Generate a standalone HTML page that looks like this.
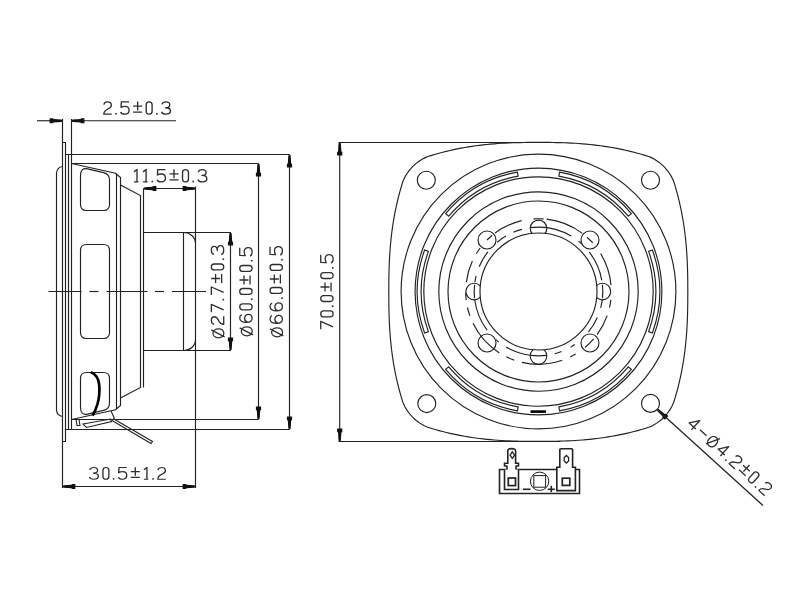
<!DOCTYPE html>
<html><head><meta charset="utf-8"><style>
html,body{margin:0;padding:0;background:#fff;width:800px;height:600px;overflow:hidden;font-family:"Liberation Sans",sans-serif;}
svg{display:block}
</style></head><body>
<svg width="800" height="600" viewBox="0 0 800 600">
<rect width="800" height="600" fill="#fff"/>
<g fill="none" stroke="#222" stroke-width="1.15">
<line x1="62.50" y1="119.00" x2="62.50" y2="142.50" />
<line x1="71.50" y1="119.00" x2="71.50" y2="154.50" />
<line x1="37.00" y1="120.75" x2="62.50" y2="120.75" />
<line x1="71.50" y1="120.75" x2="176.00" y2="120.75" />
<polygon transform="translate(62.30,120.75) rotate(180)" points="0.00,0.00 0.80,-1.20 8.80,-1.70 9.20,-2.60 12.70,-2.60 12.70,2.60 9.20,2.60 8.80,1.70 0.80,1.20" fill="#111" stroke="none"/>
<polygon transform="translate(71.70,120.75) rotate(0)" points="0.00,0.00 0.80,-1.20 8.80,-1.70 9.20,-2.60 12.70,-2.60 12.70,2.60 9.20,2.60 8.80,1.70 0.80,1.20" fill="#111" stroke="none"/>
<path d="M62.5,142.5 L65.5,142.5 L65.5,441.5 L62.5,441.5 Z"/>
<line x1="62.50" y1="441.50" x2="62.50" y2="488.00" />
<path d="M68.5,154.5 L71.5,154.5 L71.5,429.5 L68.5,429.5 Z"/>
<line x1="65.50" y1="154.50" x2="289.50" y2="154.50" />
<line x1="65.50" y1="429.50" x2="289.50" y2="429.50" />
<line x1="71.50" y1="163.50" x2="258.50" y2="163.50" />
<line x1="71.50" y1="419.50" x2="258.50" y2="419.50" />
<path d="M62.5,166.5 A6.5,6.5 0 0 0 56.5,173 L56.5,410 A6.5,6.5 0 0 0 62.5,416.5"/>
<path d="M71.5,163.5 L115.5,173.2 L120.5,177.5 L120.5,405.5 L115.5,409.8 L71.5,419.5"/>
<line x1="116.50" y1="173.50" x2="116.50" y2="409.50" />
<path d="M120.5,185 L140.5,195.5 L140.5,387.5 L120.5,398"/>
<line x1="143.50" y1="188.50" x2="143.50" y2="387.50" />
<path d="M87.5,168.9 L103.5,172.6 Q109.5,174 109.5,180 L109.5,204.5 Q109.5,210.5 103.5,210.5 L86.5,210.5 Q80.5,210.5 80.5,204.5 L80.5,175.5 Q80.5,167.5 87.5,168.9 Z"/>
<path d="M86.5,244.5 L103.5,244.5 Q109.5,244.5 109.5,250.5 L109.5,332.5 Q109.5,338.5 103.5,338.5 L86.5,338.5 Q80.5,338.5 80.5,332.5 L80.5,250.5 Q80.5,244.5 86.5,244.5 Z"/>
<path d="M87.5,414.1 L103.5,410.4 Q109.5,409 109.5,403 L109.5,378.5 Q109.5,372.5 103.5,372.5 L86.5,372.5 Q80.5,372.5 80.5,378.5 L80.5,407.5 Q80.5,415.5 87.5,414.1 Z"/>
<path d="M90.8,372.3 C95.5,374 98.5,378 99.2,385 C99.8,392 99.2,398 97.5,404 C96.2,408.5 94.5,412.5 92.6,415.5" stroke="#000" stroke-width="2.7"/>
<path d="M76,419.5 L79,419.5 L80,425.5 L77,425.5 Z" stroke-width="1.1"/>
<path d="M83,424 L110.5,419 L111.5,421.5 L86.5,427.5 Z" stroke-width="1.1"/>
<path d="M113,418.5 L152.5,441.5 L151,443.5 L112,420.5" stroke-width="1.1"/>
<path d="M111,411 L114.5,418.5" stroke-width="1.1"/>
<line x1="143.50" y1="232.50" x2="231.00" y2="232.50" />
<line x1="143.50" y1="350.50" x2="231.00" y2="350.50" />
<line x1="183.50" y1="232.50" x2="183.50" y2="350.50" />
<path d="M184,232.5 A11.5,11 0 0 1 195.5,243.5"/>
<path d="M184,350.5 A11.5,11 0 0 0 195.5,339.5"/>
<line x1="195.50" y1="186.50" x2="195.50" y2="488.00" />
<line x1="143.50" y1="188.50" x2="195.50" y2="188.50" />
<polygon transform="translate(143.70,188.50) rotate(0)" points="0.00,0.00 0.80,-1.20 8.80,-1.70 9.20,-2.60 12.70,-2.60 12.70,2.60 9.20,2.60 8.80,1.70 0.80,1.20" fill="#111" stroke="none"/>
<polygon transform="translate(195.30,188.50) rotate(180)" points="0.00,0.00 0.80,-1.20 8.80,-1.70 9.20,-2.60 12.70,-2.60 12.70,2.60 9.20,2.60 8.80,1.70 0.80,1.20" fill="#111" stroke="none"/>
<line x1="48.50" y1="291.50" x2="81.50" y2="291.50" />
<line x1="89.50" y1="291.50" x2="98.50" y2="291.50" />
<line x1="106.50" y1="291.50" x2="147.50" y2="291.50" />
<line x1="155.00" y1="291.50" x2="164.00" y2="291.50" />
<line x1="172.00" y1="291.50" x2="206.00" y2="291.50" />
<line x1="230.50" y1="232.50" x2="230.50" y2="350.50" />
<polygon transform="translate(230.50,232.70) rotate(90)" points="0.00,0.00 0.80,-1.20 8.80,-1.70 9.20,-2.60 12.70,-2.60 12.70,2.60 9.20,2.60 8.80,1.70 0.80,1.20" fill="#111" stroke="none"/>
<polygon transform="translate(230.50,350.30) rotate(-90)" points="0.00,0.00 0.80,-1.20 8.80,-1.70 9.20,-2.60 12.70,-2.60 12.70,2.60 9.20,2.60 8.80,1.70 0.80,1.20" fill="#111" stroke="none"/>
<line x1="258.50" y1="163.50" x2="258.50" y2="419.50" />
<polygon transform="translate(258.50,163.70) rotate(90)" points="0.00,0.00 0.80,-1.20 8.80,-1.70 9.20,-2.60 12.70,-2.60 12.70,2.60 9.20,2.60 8.80,1.70 0.80,1.20" fill="#111" stroke="none"/>
<polygon transform="translate(258.50,419.30) rotate(-90)" points="0.00,0.00 0.80,-1.20 8.80,-1.70 9.20,-2.60 12.70,-2.60 12.70,2.60 9.20,2.60 8.80,1.70 0.80,1.20" fill="#111" stroke="none"/>
<line x1="289.50" y1="154.50" x2="289.50" y2="429.50" />
<polygon transform="translate(289.50,154.70) rotate(90)" points="0.00,0.00 0.80,-1.20 8.80,-1.70 9.20,-2.60 12.70,-2.60 12.70,2.60 9.20,2.60 8.80,1.70 0.80,1.20" fill="#111" stroke="none"/>
<polygon transform="translate(289.50,429.30) rotate(-90)" points="0.00,0.00 0.80,-1.20 8.80,-1.70 9.20,-2.60 12.70,-2.60 12.70,2.60 9.20,2.60 8.80,1.70 0.80,1.20" fill="#111" stroke="none"/>
<line x1="62.50" y1="486.50" x2="195.50" y2="486.50" />
<polygon transform="translate(62.70,486.50) rotate(0)" points="0.00,0.00 0.80,-1.20 8.80,-1.70 9.20,-2.60 12.70,-2.60 12.70,2.60 9.20,2.60 8.80,1.70 0.80,1.20" fill="#111" stroke="none"/>
<polygon transform="translate(195.30,486.50) rotate(180)" points="0.00,0.00 0.80,-1.20 8.80,-1.70 9.20,-2.60 12.70,-2.60 12.70,2.60 9.20,2.60 8.80,1.70 0.80,1.20" fill="#111" stroke="none"/>
<path d="M427.93,156.48 L431.60,155.33 L435.28,154.25 L438.96,153.22 L442.64,152.24 L446.32,151.33 L450.00,150.46 L453.68,149.65 L457.36,148.88 L461.04,148.17 L464.72,147.51 L468.40,146.89 L472.08,146.33 L475.75,145.80 L479.43,145.32 L483.11,144.89 L486.79,144.49 L490.47,144.14 L494.15,143.82 L497.83,143.55 L501.51,143.30 L505.19,143.09 L508.87,142.92 L512.55,142.77 L516.23,142.65 L519.90,142.56 L523.58,142.49 L527.26,142.44 L530.94,142.42 L534.62,142.40 L538.30,142.40 L541.98,142.40 L545.66,142.42 L549.34,142.44 L553.02,142.49 L556.70,142.56 L560.37,142.65 L564.05,142.77 L567.73,142.92 L571.41,143.09 L575.09,143.30 L578.77,143.55 L582.45,143.82 L586.13,144.14 L589.81,144.49 L593.49,144.89 L597.17,145.32 L600.85,145.80 L604.52,146.33 L608.20,146.89 L611.88,147.51 L615.56,148.17 L619.24,148.88 L622.92,149.65 L626.60,150.46 L630.28,151.33 L633.96,152.24 L637.64,153.22 L641.32,154.25 L645.00,155.33 L648.67,156.48 L648.67,156.48 L650.77,157.37 L652.81,158.37 L654.80,159.48 L656.73,160.68 L658.60,161.98 L660.40,163.37 L662.13,164.85 L663.78,166.42 L665.35,168.07 L666.83,169.80 L668.22,171.60 L669.52,173.47 L670.72,175.40 L671.83,177.39 L672.83,179.43 L673.72,181.53 L673.72,181.53 L674.87,185.20 L675.95,188.88 L676.98,192.56 L677.96,196.24 L678.87,199.92 L679.74,203.60 L680.55,207.28 L681.32,210.96 L682.03,214.64 L682.69,218.32 L683.31,222.00 L683.87,225.68 L684.40,229.35 L684.88,233.03 L685.31,236.71 L685.71,240.39 L686.06,244.07 L686.38,247.75 L686.65,251.43 L686.90,255.11 L687.11,258.79 L687.28,262.47 L687.43,266.15 L687.55,269.83 L687.64,273.50 L687.71,277.18 L687.76,280.86 L687.78,284.54 L687.80,288.22 L687.80,291.90 L687.80,295.58 L687.78,299.26 L687.76,302.94 L687.71,306.62 L687.64,310.30 L687.55,313.97 L687.43,317.65 L687.28,321.33 L687.11,325.01 L686.90,328.69 L686.65,332.37 L686.38,336.05 L686.06,339.73 L685.71,343.41 L685.31,347.09 L684.88,350.77 L684.40,354.45 L683.87,358.12 L683.31,361.80 L682.69,365.48 L682.03,369.16 L681.32,372.84 L680.55,376.52 L679.74,380.20 L678.87,383.88 L677.96,387.56 L676.98,391.24 L675.95,394.92 L674.87,398.60 L673.72,402.27 L673.72,402.27 L672.83,404.37 L671.83,406.41 L670.72,408.40 L669.52,410.33 L668.22,412.20 L666.83,414.00 L665.35,415.73 L663.78,417.38 L662.13,418.95 L660.40,420.43 L658.60,421.82 L656.73,423.12 L654.80,424.32 L652.81,425.43 L650.77,426.43 L648.67,427.32 L648.67,427.32 L645.00,428.47 L641.32,429.55 L637.64,430.58 L633.96,431.56 L630.28,432.47 L626.60,433.34 L622.92,434.15 L619.24,434.92 L615.56,435.63 L611.88,436.29 L608.20,436.91 L604.52,437.47 L600.85,438.00 L597.17,438.48 L593.49,438.91 L589.81,439.31 L586.13,439.66 L582.45,439.98 L578.77,440.25 L575.09,440.50 L571.41,440.71 L567.73,440.88 L564.05,441.03 L560.37,441.15 L556.70,441.24 L553.02,441.31 L549.34,441.36 L545.66,441.38 L541.98,441.40 L538.30,441.40 L534.62,441.40 L530.94,441.38 L527.26,441.36 L523.58,441.31 L519.90,441.24 L516.23,441.15 L512.55,441.03 L508.87,440.88 L505.19,440.71 L501.51,440.50 L497.83,440.25 L494.15,439.98 L490.47,439.66 L486.79,439.31 L483.11,438.91 L479.43,438.48 L475.75,438.00 L472.08,437.47 L468.40,436.91 L464.72,436.29 L461.04,435.63 L457.36,434.92 L453.68,434.15 L450.00,433.34 L446.32,432.47 L442.64,431.56 L438.96,430.58 L435.28,429.55 L431.60,428.47 L427.93,427.32 L427.93,427.32 L425.83,426.43 L423.79,425.43 L421.80,424.32 L419.87,423.12 L418.00,421.82 L416.20,420.43 L414.47,418.95 L412.82,417.38 L411.25,415.73 L409.77,414.00 L408.38,412.20 L407.08,410.33 L405.88,408.40 L404.77,406.41 L403.77,404.37 L402.88,402.27 L402.88,402.27 L401.73,398.60 L400.65,394.92 L399.62,391.24 L398.64,387.56 L397.73,383.88 L396.86,380.20 L396.05,376.52 L395.28,372.84 L394.57,369.16 L393.91,365.48 L393.29,361.80 L392.73,358.12 L392.20,354.45 L391.72,350.77 L391.29,347.09 L390.89,343.41 L390.54,339.73 L390.22,336.05 L389.95,332.37 L389.70,328.69 L389.49,325.01 L389.32,321.33 L389.17,317.65 L389.05,313.97 L388.96,310.30 L388.89,306.62 L388.84,302.94 L388.82,299.26 L388.80,295.58 L388.80,291.90 L388.80,288.22 L388.82,284.54 L388.84,280.86 L388.89,277.18 L388.96,273.50 L389.05,269.83 L389.17,266.15 L389.32,262.47 L389.49,258.79 L389.70,255.11 L389.95,251.43 L390.22,247.75 L390.54,244.07 L390.89,240.39 L391.29,236.71 L391.72,233.03 L392.20,229.35 L392.73,225.68 L393.29,222.00 L393.91,218.32 L394.57,214.64 L395.28,210.96 L396.05,207.28 L396.86,203.60 L397.73,199.92 L398.64,196.24 L399.62,192.56 L400.65,188.88 L401.73,185.20 L402.88,181.53 L402.88,181.53 L403.77,179.43 L404.77,177.39 L405.88,175.40 L407.08,173.47 L408.38,171.60 L409.77,169.80 L411.25,168.07 L412.82,166.42 L414.47,164.85 L416.20,163.37 L418.00,161.98 L419.87,160.68 L421.80,159.48 L423.79,158.37 L425.83,157.37 L427.93,156.48 Z"/>
<line x1="338.50" y1="142.50" x2="560.00" y2="142.50" />
<line x1="338.50" y1="441.50" x2="560.00" y2="441.50" />
<line x1="339.70" y1="142.50" x2="339.70" y2="441.50" />
<polygon transform="translate(339.70,142.70) rotate(90)" points="0.00,0.00 0.80,-1.20 8.80,-1.70 9.20,-2.60 12.70,-2.60 12.70,2.60 9.20,2.60 8.80,1.70 0.80,1.20" fill="#111" stroke="none"/>
<polygon transform="translate(339.70,441.30) rotate(-90)" points="0.00,0.00 0.80,-1.20 8.80,-1.70 9.20,-2.60 12.70,-2.60 12.70,2.60 9.20,2.60 8.80,1.70 0.80,1.20" fill="#111" stroke="none"/>
<circle cx="426.30" cy="180.20" r="9.00" />
<circle cx="650.50" cy="180.20" r="9.00" />
<circle cx="426.80" cy="403.60" r="9.00" />
<circle cx="650.50" cy="403.40" r="9.00" />
<circle cx="538.50" cy="291.50" r="90.50" />
<circle cx="538.50" cy="291.50" r="99.70" />
<circle cx="538.50" cy="291.50" r="114.70" />
<circle cx="538.50" cy="291.50" r="123.40" />
<circle cx="538.50" cy="291.50" r="137.40" />
<circle cx="538.50" cy="291.50" r="58.50" />
<path d="M611.02,285.16 A72.8,72.8 0 0 0 600.57,253.46"/>
<path d="M592.77,242.98 A72.8,72.8 0 0 0 587.02,237.23"/>
<path d="M582.31,233.36 A72.8,72.8 0 0 0 546.61,219.15"/>
<path d="M543.58,218.88 A72.8,72.8 0 0 0 533.42,218.88"/>
<path d="M521.63,220.68 A72.8,72.8 0 0 0 495.09,233.05"/>
<path d="M492.29,235.24 A72.8,72.8 0 0 0 487.02,240.02"/>
<path d="M480.13,247.99 A72.8,72.8 0 0 0 476.30,253.68"/>
<path d="M472.36,261.08 A72.8,72.8 0 0 0 466.31,282.12"/>
<path d="M465.71,292.52 A72.8,72.8 0 0 0 466.21,300.12"/>
<path d="M467.48,307.50 A72.8,72.8 0 0 0 469.88,315.80"/>
<path d="M473.01,323.30 A72.8,72.8 0 0 0 499.38,352.90"/>
<path d="M506.36,356.82 A72.8,72.8 0 0 0 514.20,360.12"/>
<path d="M521.88,362.38 A72.8,72.8 0 0 0 562.20,360.33"/>
<path d="M570.18,357.04 A72.8,72.8 0 0 0 575.67,354.10"/>
<path d="M585.00,347.51 A72.8,72.8 0 0 0 593.69,338.97"/>
<path d="M597.10,334.70 A72.8,72.8 0 0 0 607.17,315.68"/>
<path d="M609.52,307.50 A72.8,72.8 0 0 0 610.82,299.87"/>
<path d="M601.82,280.33 A64.3,64.3 0 0 0 589.38,252.18"/>
<path d="M581.53,243.72 A64.3,64.3 0 0 0 578.44,241.11"/>
<path d="M571.13,236.10 A64.3,64.3 0 0 0 530.66,227.68"/>
<path d="M521.86,229.39 A64.3,64.3 0 0 0 513.38,232.31"/>
<path d="M505.87,236.10 A64.3,64.3 0 0 0 497.17,242.24"/>
<path d="M487.90,251.82 A64.3,64.3 0 0 0 479.14,266.79"/>
<path d="M476.11,275.94 A64.3,64.3 0 0 0 474.89,282.11"/>
<path d="M474.55,284.78 A64.3,64.3 0 0 0 474.55,298.22"/>
<path d="M474.76,300.00 A64.3,64.3 0 0 0 487.08,330.11"/>
<path d="M495.64,339.43 A64.3,64.3 0 0 0 498.91,342.17"/>
<path d="M506.16,347.07 A64.3,64.3 0 0 0 530.00,355.24"/>
<path d="M530.66,355.32 A64.3,64.3 0 0 0 546.34,355.32"/>
<path d="M554.60,353.75 A64.3,64.3 0 0 0 561.54,351.53"/>
<path d="M570.65,347.19 A64.3,64.3 0 0 0 574.83,344.55"/>
<path d="M588.47,331.97 A64.3,64.3 0 0 0 597.33,317.45"/>
<path d="M600.67,307.93 A64.3,64.3 0 0 0 602.22,300.12"/>
<path d="M602.45,298.22 A64.3,64.3 0 0 0 602.45,284.78"/>
<path d="M652.39,332.95 A121.2,121.2 0 0 0 652.39,250.05 L648.63,251.42 A117.2,117.2 0 0 1 648.63,331.58 Z"/>
<path d="M631.34,213.59 A121.2,121.2 0 0 0 559.55,172.14 L558.85,176.08 A117.2,117.2 0 0 1 628.28,216.17 Z"/>
<path d="M517.45,172.14 A121.2,121.2 0 0 0 445.66,213.59 L448.72,216.17 A117.2,117.2 0 0 1 518.15,176.08 Z"/>
<path d="M424.61,250.05 A121.2,121.2 0 0 0 424.61,332.95 L428.37,331.58 A117.2,117.2 0 0 1 428.37,251.42 Z"/>
<path d="M445.66,369.41 A121.2,121.2 0 0 0 517.45,410.86 L518.15,406.92 A117.2,117.2 0 0 1 448.72,366.83 Z"/>
<path d="M559.55,410.86 A121.2,121.2 0 0 0 631.34,369.41 L628.28,366.83 A117.2,117.2 0 0 1 558.85,406.92 Z"/>
<clipPath id="outside"><path d="M300,0 H800 V600 H300 Z M538.5,233.0 A58.5,58.5 0 1 0 538.5,350.0 A58.5,58.5 0 1 0 538.5,233.0 Z" clip-rule="evenodd"/></clipPath>
<g clip-path="url(#outside)">
<circle cx="538.50" cy="228.40" r="8.30" />
<circle cx="538.50" cy="356.00" r="8.30" />
<circle cx="474.20" cy="291.50" r="8.30" />
<circle cx="602.40" cy="291.50" r="8.30" />
</g>
<circle cx="589.98" cy="240.02" r="9.00" />
<circle cx="487.02" cy="240.02" r="9.00" />
<circle cx="487.02" cy="342.98" r="9.00" />
<circle cx="589.98" cy="342.98" r="9.00" />
<rect x="530.5" y="410.3" width="15.5" height="2.6" fill="#000" stroke="none"/>
<polygon transform="translate(657.19,409.42) rotate(42.0)" points="0.00,0.00 0.80,-1.20 8.80,-1.70 9.20,-2.60 12.70,-2.60 12.70,2.60 9.20,2.60 8.80,1.70 0.80,1.20" fill="#111" stroke="none"/>
<line x1="657.19" y1="409.42" x2="763.00" y2="505.50" stroke-width="1.25" />
<g stroke-width="1.6">
<path d="M499.5,469.5 H579.5 V493.5 H499.5 Z"/>
<path d="M504.5,469.5 V489.5 H518.5 V469.5 M507,469.5 V466.2 L504.5,465.8 V463.3 H507.8 V450.8 Q507.8,448.6 511.5,448.6 Q515.4,448.6 515.6,450.8 V463.3 H518.5 V465.8 L516,466.2 V469.5" fill="#fff"/>
<path d="M556.8,490.6 V467.2 H559.8 V449.5 Q559.8,448.8 561,448.8 H571.5 Q572.6,448.8 572.6,449.5 V467.2 H575.4 V490.6 Z" fill="#fff"/>
</g>
<g stroke-width="1.7">
<rect x="508.3" y="478" width="7.2" height="7.6"/>
<rect x="562.3" y="478.2" width="7.5" height="7.2"/>
</g>
<g stroke-width="1.3">
<path d="M512.3,451.8 L514.6,455.2 L512.3,458.4 L510.1,455.2 Z"/>
<path d="M566.4,455.5 L568.6,457.5 L568.6,461 L566.4,463 L564.2,461 L564.2,457.5 Z"/>
</g>
<circle cx="539.60" cy="481.30" r="9.20" stroke-width="1.0"/>
<rect x="533.8" y="475.6" width="11.8" height="11.6" stroke-width="1.0"/>
<line x1="523.00" y1="489.30" x2="530.50" y2="489.30" stroke-width="1.6" />
<line x1="547.80" y1="489.30" x2="554.80" y2="489.30" stroke-width="1.6" />
<line x1="551.30" y1="485.80" x2="551.30" y2="492.20" stroke-width="1.6" />
</g>
<g transform="translate(103.25,101.30) rotate(0) scale(1,0.96)" fill="none" stroke="#2e2e2e" stroke-width="1.35" stroke-linecap="butt" stroke-linejoin="round"><path transform="translate(0.00,0)" d="M0.6,3.5 C0.9,1.3 2.3,0.55 4.5,0.55 C6.8,0.55 8.1,1.8 8.1,4 C8.1,5.8 6.9,6.8 4.5,8 C1.7,9.4 0.6,10.4 0.6,13.45 L8.5,13.45"/><rect x="11.90" y="12.2" width="1.6" height="1.7" fill="#2e2e2e" stroke="none"/><path transform="translate(16.90,0)" d="M8.9,0.55 L1.2,0.55 L0.9,6.3 C1.9,5.6 3.3,5.2 4.7,5.2 C7.4,5.2 8.95,7 8.95,9.4 C8.95,11.9 7.2,13.45 4.6,13.45 C2.5,13.45 1,12.6 0.55,11.2"/><path transform="translate(29.90,0)" d="M4.5,0.3 L4.5,9.7 M0,5 L9,5 M0,11.3 L9,11.3"/><path transform="translate(42.40,0)" d="M0.55,3.6 C0.55,1.6 1.8,0.55 3.5,0.55 C5.2,0.55 6.45,1.6 6.45,3.6 L6.45,10.4 C6.45,12.4 5.2,13.45 3.5,13.45 C1.8,13.45 0.55,12.4 0.55,10.4 Z"/><rect x="52.80" y="12.2" width="1.6" height="1.7" fill="#2e2e2e" stroke="none"/><path transform="translate(57.80,0)" d="M0.8,3.2 C1.3,1.4 2.8,0.55 4.9,0.55 C7.3,0.55 8.7,1.8 8.7,3.6 C8.7,5.5 7.2,6.7 4.6,6.7 C7.7,6.7 9.45,8.2 9.45,10.2 C9.45,12.3 7.6,13.45 4.9,13.45 C2.6,13.45 1,12.6 0.55,10.9"/></g>
<g transform="translate(133.40,169.00) rotate(0) scale(1,0.96)" fill="none" stroke="#2e2e2e" stroke-width="1.35" stroke-linecap="butt" stroke-linejoin="round"><path transform="translate(0.00,0)" d="M0.55,3.0 L3.6,0.55 L3.6,13.45 M0.55,13.45 L5.05,13.45"/><path transform="translate(9.10,0)" d="M0.55,3.0 L3.6,0.55 L3.6,13.45 M0.55,13.45 L5.05,13.45"/><rect x="18.10" y="12.2" width="1.6" height="1.7" fill="#2e2e2e" stroke="none"/><path transform="translate(23.10,0)" d="M8.9,0.55 L1.2,0.55 L0.9,6.3 C1.9,5.6 3.3,5.2 4.7,5.2 C7.4,5.2 8.95,7 8.95,9.4 C8.95,11.9 7.2,13.45 4.6,13.45 C2.5,13.45 1,12.6 0.55,11.2"/><path transform="translate(36.10,0)" d="M4.5,0.3 L4.5,9.7 M0,5 L9,5 M0,11.3 L9,11.3"/><path transform="translate(48.60,0)" d="M0.55,3.6 C0.55,1.6 1.8,0.55 3.5,0.55 C5.2,0.55 6.45,1.6 6.45,3.6 L6.45,10.4 C6.45,12.4 5.2,13.45 3.5,13.45 C1.8,13.45 0.55,12.4 0.55,10.4 Z"/><rect x="59.00" y="12.2" width="1.6" height="1.7" fill="#2e2e2e" stroke="none"/><path transform="translate(64.00,0)" d="M0.8,3.2 C1.3,1.4 2.8,0.55 4.9,0.55 C7.3,0.55 8.7,1.8 8.7,3.6 C8.7,5.5 7.2,6.7 4.6,6.7 C7.7,6.7 9.45,8.2 9.45,10.2 C9.45,12.3 7.6,13.45 4.9,13.45 C2.6,13.45 1,12.6 0.55,10.9"/></g>
<g transform="translate(88.90,467.00) rotate(0) scale(1,0.91)" fill="none" stroke="#2e2e2e" stroke-width="1.35" stroke-linecap="butt" stroke-linejoin="round"><path transform="translate(0.00,0)" d="M0.8,3.2 C1.3,1.4 2.8,0.55 4.9,0.55 C7.3,0.55 8.7,1.8 8.7,3.6 C8.7,5.5 7.2,6.7 4.6,6.7 C7.7,6.7 9.45,8.2 9.45,10.2 C9.45,12.3 7.6,13.45 4.9,13.45 C2.6,13.45 1,12.6 0.55,10.9"/><path transform="translate(13.50,0)" d="M0.55,3.6 C0.55,1.6 1.8,0.55 3.5,0.55 C5.2,0.55 6.45,1.6 6.45,3.6 L6.45,10.4 C6.45,12.4 5.2,13.45 3.5,13.45 C1.8,13.45 0.55,12.4 0.55,10.4 Z"/><rect x="23.90" y="12.2" width="1.6" height="1.7" fill="#2e2e2e" stroke="none"/><path transform="translate(28.90,0)" d="M8.9,0.55 L1.2,0.55 L0.9,6.3 C1.9,5.6 3.3,5.2 4.7,5.2 C7.4,5.2 8.95,7 8.95,9.4 C8.95,11.9 7.2,13.45 4.6,13.45 C2.5,13.45 1,12.6 0.55,11.2"/><path transform="translate(41.90,0)" d="M4.5,0.3 L4.5,9.7 M0,5 L9,5 M0,11.3 L9,11.3"/><path transform="translate(54.40,0)" d="M0.55,3.0 L3.6,0.55 L3.6,13.45 M0.55,13.45 L5.05,13.45"/><rect x="63.40" y="12.2" width="1.6" height="1.7" fill="#2e2e2e" stroke="none"/><path transform="translate(68.40,0)" d="M0.6,3.5 C0.9,1.3 2.3,0.55 4.5,0.55 C6.8,0.55 8.1,1.8 8.1,4 C8.1,5.8 6.9,6.8 4.5,8 C1.7,9.4 0.6,10.4 0.6,13.45 L8.5,13.45"/></g>
<g transform="translate(210.80,338.35) rotate(-90) scale(1,0.96)" fill="none" stroke="#2e2e2e" stroke-width="1.35" stroke-linecap="butt" stroke-linejoin="round"><path transform="translate(0.00,0)" d="M5,2.2 C7.6,2.2 9.5,4.7 9.5,8.0 C9.5,11.3 7.6,13.6 5,13.6 C2.4,13.6 0.5,11.3 0.5,8.0 C0.5,4.7 2.4,2.2 5,2.2 Z M1.5,14.4 L8.5,0.5"/><path transform="translate(13.50,0)" d="M0.6,3.5 C0.9,1.3 2.3,0.55 4.5,0.55 C6.8,0.55 8.1,1.8 8.1,4 C8.1,5.8 6.9,6.8 4.5,8 C1.7,9.4 0.6,10.4 0.6,13.45 L8.5,13.45"/><path transform="translate(25.50,0)" d="M0.55,0.55 L8.45,0.55 L3.0,13.45"/><rect x="37.90" y="12.2" width="1.6" height="1.7" fill="#2e2e2e" stroke="none"/><path transform="translate(42.90,0)" d="M0.55,0.55 L8.45,0.55 L3.0,13.45"/><path transform="translate(55.40,0)" d="M4.5,0.3 L4.5,9.7 M0,5 L9,5 M0,11.3 L9,11.3"/><path transform="translate(67.90,0)" d="M0.55,3.6 C0.55,1.6 1.8,0.55 3.5,0.55 C5.2,0.55 6.45,1.6 6.45,3.6 L6.45,10.4 C6.45,12.4 5.2,13.45 3.5,13.45 C1.8,13.45 0.55,12.4 0.55,10.4 Z"/><rect x="78.30" y="12.2" width="1.6" height="1.7" fill="#2e2e2e" stroke="none"/><path transform="translate(83.30,0)" d="M0.8,3.2 C1.3,1.4 2.8,0.55 4.9,0.55 C7.3,0.55 8.7,1.8 8.7,3.6 C8.7,5.5 7.2,6.7 4.6,6.7 C7.7,6.7 9.45,8.2 9.45,10.2 C9.45,12.3 7.6,13.45 4.9,13.45 C2.6,13.45 1,12.6 0.55,10.9"/></g>
<g transform="translate(239.20,336.35) rotate(-90) scale(1,0.96)" fill="none" stroke="#2e2e2e" stroke-width="1.35" stroke-linecap="butt" stroke-linejoin="round"><path transform="translate(0.00,0)" d="M5,2.2 C7.6,2.2 9.5,4.7 9.5,8.0 C9.5,11.3 7.6,13.6 5,13.6 C2.4,13.6 0.5,11.3 0.5,8.0 C0.5,4.7 2.4,2.2 5,2.2 Z M1.5,14.4 L8.5,0.5"/><path transform="translate(13.50,0)" d="M8.2,2.6 C7.7,1.3 6.5,0.55 4.8,0.55 C2,0.55 0.55,3 0.55,7.5 C0.55,11.5 2,13.45 4.6,13.45 C7,13.45 8.45,11.8 8.45,9.6 C8.45,7.3 7,5.6 4.6,5.6 C2.5,5.6 1,6.8 0.6,8.6"/><path transform="translate(26.00,0)" d="M0.55,3.6 C0.55,1.6 1.8,0.55 3.5,0.55 C5.2,0.55 6.45,1.6 6.45,3.6 L6.45,10.4 C6.45,12.4 5.2,13.45 3.5,13.45 C1.8,13.45 0.55,12.4 0.55,10.4 Z"/><rect x="36.40" y="12.2" width="1.6" height="1.7" fill="#2e2e2e" stroke="none"/><path transform="translate(41.40,0)" d="M0.55,3.6 C0.55,1.6 1.8,0.55 3.5,0.55 C5.2,0.55 6.45,1.6 6.45,3.6 L6.45,10.4 C6.45,12.4 5.2,13.45 3.5,13.45 C1.8,13.45 0.55,12.4 0.55,10.4 Z"/><path transform="translate(51.90,0)" d="M4.5,0.3 L4.5,9.7 M0,5 L9,5 M0,11.3 L9,11.3"/><path transform="translate(64.40,0)" d="M0.55,3.6 C0.55,1.6 1.8,0.55 3.5,0.55 C5.2,0.55 6.45,1.6 6.45,3.6 L6.45,10.4 C6.45,12.4 5.2,13.45 3.5,13.45 C1.8,13.45 0.55,12.4 0.55,10.4 Z"/><rect x="74.80" y="12.2" width="1.6" height="1.7" fill="#2e2e2e" stroke="none"/><path transform="translate(79.80,0)" d="M8.9,0.55 L1.2,0.55 L0.9,6.3 C1.9,5.6 3.3,5.2 4.7,5.2 C7.4,5.2 8.95,7 8.95,9.4 C8.95,11.9 7.2,13.45 4.6,13.45 C2.5,13.45 1,12.6 0.55,11.2"/></g>
<g transform="translate(269.50,337.35) rotate(-90) scale(1,0.96)" fill="none" stroke="#2e2e2e" stroke-width="1.35" stroke-linecap="butt" stroke-linejoin="round"><path transform="translate(0.00,0)" d="M5,2.2 C7.6,2.2 9.5,4.7 9.5,8.0 C9.5,11.3 7.6,13.6 5,13.6 C2.4,13.6 0.5,11.3 0.5,8.0 C0.5,4.7 2.4,2.2 5,2.2 Z M1.5,14.4 L8.5,0.5"/><path transform="translate(13.50,0)" d="M8.2,2.6 C7.7,1.3 6.5,0.55 4.8,0.55 C2,0.55 0.55,3 0.55,7.5 C0.55,11.5 2,13.45 4.6,13.45 C7,13.45 8.45,11.8 8.45,9.6 C8.45,7.3 7,5.6 4.6,5.6 C2.5,5.6 1,6.8 0.6,8.6"/><path transform="translate(26.00,0)" d="M8.2,2.6 C7.7,1.3 6.5,0.55 4.8,0.55 C2,0.55 0.55,3 0.55,7.5 C0.55,11.5 2,13.45 4.6,13.45 C7,13.45 8.45,11.8 8.45,9.6 C8.45,7.3 7,5.6 4.6,5.6 C2.5,5.6 1,6.8 0.6,8.6"/><rect x="38.40" y="12.2" width="1.6" height="1.7" fill="#2e2e2e" stroke="none"/><path transform="translate(43.40,0)" d="M0.55,3.6 C0.55,1.6 1.8,0.55 3.5,0.55 C5.2,0.55 6.45,1.6 6.45,3.6 L6.45,10.4 C6.45,12.4 5.2,13.45 3.5,13.45 C1.8,13.45 0.55,12.4 0.55,10.4 Z"/><path transform="translate(53.90,0)" d="M4.5,0.3 L4.5,9.7 M0,5 L9,5 M0,11.3 L9,11.3"/><path transform="translate(66.40,0)" d="M0.55,3.6 C0.55,1.6 1.8,0.55 3.5,0.55 C5.2,0.55 6.45,1.6 6.45,3.6 L6.45,10.4 C6.45,12.4 5.2,13.45 3.5,13.45 C1.8,13.45 0.55,12.4 0.55,10.4 Z"/><rect x="76.80" y="12.2" width="1.6" height="1.7" fill="#2e2e2e" stroke="none"/><path transform="translate(81.80,0)" d="M8.9,0.55 L1.2,0.55 L0.9,6.3 C1.9,5.6 3.3,5.2 4.7,5.2 C7.4,5.2 8.95,7 8.95,9.4 C8.95,11.9 7.2,13.45 4.6,13.45 C2.5,13.45 1,12.6 0.55,11.2"/></g>
<g transform="translate(320.20,329.90) rotate(-90) scale(1,0.96)" fill="none" stroke="#2e2e2e" stroke-width="1.35" stroke-linecap="butt" stroke-linejoin="round"><path transform="translate(0.00,0)" d="M0.55,0.55 L8.45,0.55 L3.0,13.45"/><path transform="translate(12.50,0)" d="M0.55,3.6 C0.55,1.6 1.8,0.55 3.5,0.55 C5.2,0.55 6.45,1.6 6.45,3.6 L6.45,10.4 C6.45,12.4 5.2,13.45 3.5,13.45 C1.8,13.45 0.55,12.4 0.55,10.4 Z"/><rect x="22.90" y="12.2" width="1.6" height="1.7" fill="#2e2e2e" stroke="none"/><path transform="translate(27.90,0)" d="M0.55,3.6 C0.55,1.6 1.8,0.55 3.5,0.55 C5.2,0.55 6.45,1.6 6.45,3.6 L6.45,10.4 C6.45,12.4 5.2,13.45 3.5,13.45 C1.8,13.45 0.55,12.4 0.55,10.4 Z"/><path transform="translate(38.40,0)" d="M4.5,0.3 L4.5,9.7 M0,5 L9,5 M0,11.3 L9,11.3"/><path transform="translate(50.90,0)" d="M0.55,3.6 C0.55,1.6 1.8,0.55 3.5,0.55 C5.2,0.55 6.45,1.6 6.45,3.6 L6.45,10.4 C6.45,12.4 5.2,13.45 3.5,13.45 C1.8,13.45 0.55,12.4 0.55,10.4 Z"/><rect x="61.30" y="12.2" width="1.6" height="1.7" fill="#2e2e2e" stroke="none"/><path transform="translate(66.30,0)" d="M8.9,0.55 L1.2,0.55 L0.9,6.3 C1.9,5.6 3.3,5.2 4.7,5.2 C7.4,5.2 8.95,7 8.95,9.4 C8.95,11.9 7.2,13.45 4.6,13.45 C2.5,13.45 1,12.6 0.55,11.2"/></g>
<g transform="translate(695.07,415.60) rotate(42.0) scale(1,0.96)" fill="none" stroke="#2e2e2e" stroke-width="1.35" stroke-linecap="butt" stroke-linejoin="round"><path transform="translate(0.00,0)" d="M6.8,13.6 L6.8,0.55 L0.55,9.8 L9.5,9.8"/><path transform="translate(13.00,0)" d="M0,7.5 L9,7.5"/><path transform="translate(25.50,0)" d="M5,2.2 C7.6,2.2 9.5,4.7 9.5,8.0 C9.5,11.3 7.6,13.6 5,13.6 C2.4,13.6 0.5,11.3 0.5,8.0 C0.5,4.7 2.4,2.2 5,2.2 Z M1.5,14.4 L8.5,0.5"/><path transform="translate(39.00,0)" d="M6.8,13.6 L6.8,0.55 L0.55,9.8 L9.5,9.8"/><rect x="51.90" y="12.2" width="1.6" height="1.7" fill="#2e2e2e" stroke="none"/><path transform="translate(56.90,0)" d="M0.6,3.5 C0.9,1.3 2.3,0.55 4.5,0.55 C6.8,0.55 8.1,1.8 8.1,4 C8.1,5.8 6.9,6.8 4.5,8 C1.7,9.4 0.6,10.4 0.6,13.45 L8.5,13.45"/><path transform="translate(68.90,0)" d="M4.5,0.3 L4.5,9.7 M0,5 L9,5 M0,11.3 L9,11.3"/><path transform="translate(81.40,0)" d="M0.55,3.6 C0.55,1.6 1.8,0.55 3.5,0.55 C5.2,0.55 6.45,1.6 6.45,3.6 L6.45,10.4 C6.45,12.4 5.2,13.45 3.5,13.45 C1.8,13.45 0.55,12.4 0.55,10.4 Z"/><rect x="91.80" y="12.2" width="1.6" height="1.7" fill="#2e2e2e" stroke="none"/><path transform="translate(96.80,0)" d="M0.6,3.5 C0.9,1.3 2.3,0.55 4.5,0.55 C6.8,0.55 8.1,1.8 8.1,4 C8.1,5.8 6.9,6.8 4.5,8 C1.7,9.4 0.6,10.4 0.6,13.45 L8.5,13.45"/></g>
</svg>
</body></html>
